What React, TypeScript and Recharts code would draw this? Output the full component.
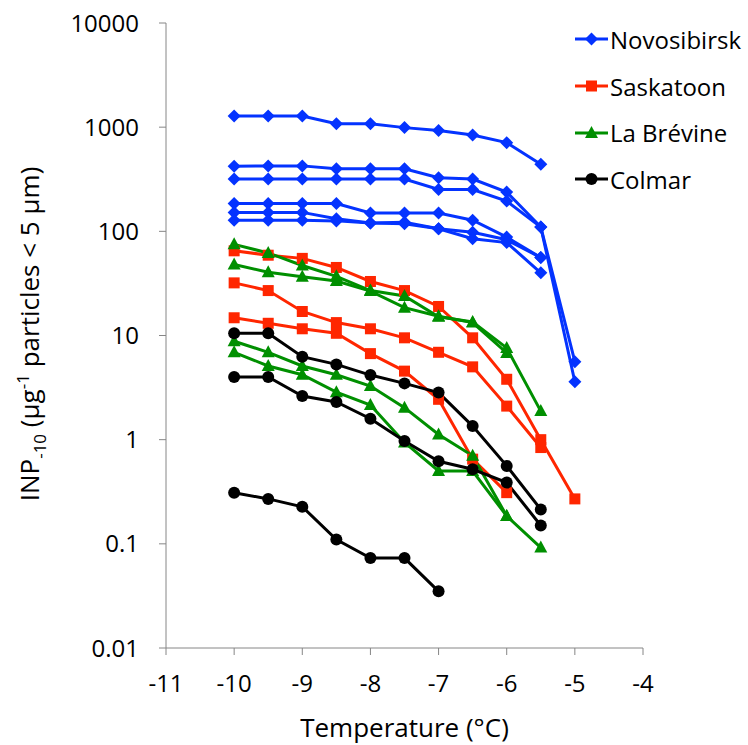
import React from 'react';
import { LineChart, Line, XAxis, YAxis } from 'recharts';

const FONT = '"Open Sans", sans-serif';

// temperatures (°C) at which the samples were read
const temps = [-10, -9.5, -9, -8.5, -8, -7.5, -7, -6.5, -6, -5.5, -5];

// Novosibirsk
const nov1 = [1280, 1280, 1280, 1080, 1080, 990, 930, 840, 710, 440];
const nov2 = [422, 425, 425, 398, 398, 398, 327, 318, 238, 110, 5.6];
const nov3 = [318, 318, 318, 318, 318, 318, 252, 252, 195, 110, 3.6];
const nov4 = [185, 185, 185, 185, 150, 150, 150, 128, 88, 56];
const nov5 = [152, 152, 152, 132, 120, 122, 106, 98, 83, 56];
const nov6 = [128, 128, 128, 126, 120, 118, 106, 85, 78, 40];

// Saskatoon
const sas1 = [65, 59, 55, 45, 33, 27, 19, 9.5, 3.8, 1.0, 0.27];
const sas2 = [32, 27, 17, 13.3, 11.6, 9.5, 6.9, 5.0, 2.1, 0.84];
const sas3 = [14.8, 13.1, 11.6, 10.5, 6.7, 4.55, 2.44, 0.65, 0.31];

// La Brévine
const bre1 = [75, 62, 47, 37, 27, 24, 15.1, 13.5, 7.6, 1.88];
const bre2 = [48, 40.5, 36.6, 33.3, 26.7, 18.5, 15.3, 13.3, 6.8];
const bre3 = [8.8, 6.9, 5.1, 4.2, 3.27, 2.03, 1.12, 0.7, 0.185, 0.092];
const bre4 = [6.9, 5.1, 4.2, 2.86, 2.15, 0.94, 0.5, 0.5, 0.185];

// Colmar
const col1 = [10.5, 10.5, 6.26, 5.28, 4.17, 3.47, 2.83, 1.35, 0.56, 0.214];
const col2 = [4.0, 4.0, 2.62, 2.3, 1.59, 0.97, 0.62, 0.52, 0.387, 0.15];
const col3 = [0.31, 0.27, 0.227, 0.11, 0.073, 0.073, 0.035];

const xTicks = [-11, -10, -9, -8, -7, -6, -5, -4];
const yTicks = [0.01, 0.1, 1, 10, 100, 1000, 10000];

type Shape = 'diamond' | 'square' | 'triangle' | 'circle';

const SITES: { name: string; color: string; shape: Shape; series: number[][] }[] = [
  { name: 'Novosibirsk', color: '#0433ff', shape: 'diamond', series: [nov1, nov2, nov3, nov4, nov5, nov6] },
  { name: 'Saskatoon', color: '#ff2600', shape: 'square', series: [sas1, sas2, sas3] },
  { name: 'La Brévine', color: '#008f00', shape: 'triangle', series: [bre1, bre2, bre3, bre4] },
  { name: 'Colmar', color: '#000000', shape: 'circle', series: [col1, col2, col3] },
];

const rows = temps.map((t, i) => {
  const row: Record<string, number | undefined> = { t };
  SITES.forEach((s, si) => s.series.forEach((vals, k) => { row[`s${si}_${k}`] = vals[i]; }));
  return row;
});

function Marker({ shape, color, cx, cy }: { shape: Shape; color: string; cx: number; cy: number }) {
  if (shape === 'diamond') {
    const r = 6.5;
    return <polygon points={`${cx},${cy - r} ${cx + r},${cy} ${cx},${cy + r} ${cx - r},${cy}`} fill={color} />;
  }
  if (shape === 'square') {
    return <rect x={cx - 5.5} y={cy - 5.5} width={11} height={11} fill={color} />;
  }
  if (shape === 'triangle') {
    return <polygon points={`${cx},${cy - 7} ${cx + 6.5},${cy + 5} ${cx - 6.5},${cy + 5}`} fill={color} />;
  }
  return <circle cx={cx} cy={cy} r={6} fill={color} />;
}

const makeDot = (shape: Shape, color: string) => (props: any) => {
  const { cx, cy, index } = props;
  if (cx == null || cy == null || props.value == null) return <g key={index} />;
  return <Marker key={index} shape={shape} color={color} cx={cx} cy={cy} />;
};

const YLabel = () => (
  <text transform="translate(39, 334) rotate(-90)" textAnchor="middle" fontSize={26} fontFamily={FONT} fill="#000">
    INP<tspan dy={7} fontSize={17}>-10</tspan>
    <tspan dy={-7}> (μg</tspan>
    <tspan dy={-10} fontSize={17}>-1</tspan>
    <tspan dy={10}> particles &lt; 5 μm)</tspan>
  </text>
);

const XLabel = (props: any) => {
  const vb = props.viewBox || {};
  return (
    <text x={vb.x + vb.width / 2} y={vb.y + 89} textAnchor="middle" fontSize={26} fontFamily={FONT} fill="#000">
      Temperature (°C)
    </text>
  );
};

const LegendBox = () => (
  <div style={{ position: 'absolute', left: 575, top: 16, fontFamily: FONT, fontSize: 24, color: '#000' }}>
    {SITES.map((s) => (
      <div key={s.name} style={{ display: 'flex', alignItems: 'center', height: 46.7, whiteSpace: 'nowrap' }}>
        <svg width={35} height={20} style={{ display: 'block' }}>
          <line x1={0} x2={33} y1={10} y2={10} stroke={s.color} strokeWidth={3} />
          <Marker shape={s.shape} color={s.color} cx={16.5} cy={10} />
        </svg>
        <span>{s.name}</span>
      </div>
    ))}
  </div>
);

export default function App() {
  return (
    <div style={{ position: 'absolute', left: 0, top: 0, width: 748, height: 745, background: '#fff' }}>
      <LineChart width={748} height={745} data={rows} margin={{ top: 23, right: 105, bottom: 37, left: 0 }}>
        <XAxis
          type="number"
          dataKey="t"
          domain={[-11, -4]}
          ticks={xTicks}
          stroke="#868686"
          tickSize={7}
          tickMargin={20}
          height={60}
          tick={{ fill: '#000', fontSize: 24, fontFamily: FONT }}
          label={<XLabel />}
        />
        <YAxis
          scale="log"
          domain={[0.01, 10000]}
          ticks={yTicks}
          allowDataOverflow
          stroke="#868686"
          tickSize={7}
          tickMargin={20}
          width={166}
          tick={{ fill: '#000', fontSize: 24, fontFamily: FONT }}
          tickFormatter={(v) => String(v)}
        />
        {SITES.map((s, si) =>
          s.series.map((_, k) => (
            <Line
              key={`s${si}_${k}`}
              dataKey={`s${si}_${k}`}
              stroke={s.color}
              strokeWidth={3}
              dot={makeDot(s.shape, s.color)}
              activeDot={false}
              legendType="none"
              isAnimationActive={false}
            />
          ))
        )}
      </LineChart>
      <svg width={748} height={745} style={{ position: 'absolute', left: 0, top: 0, pointerEvents: 'none' }}>
        <YLabel />
      </svg>
      <LegendBox />
    </div>
  );
}
